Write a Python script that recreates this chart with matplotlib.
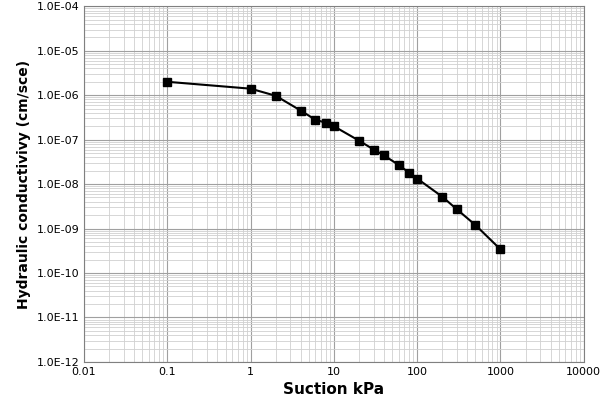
import matplotlib
matplotlib.use("Agg")
import matplotlib.pyplot as plt
from matplotlib.ticker import LogLocator, FixedLocator

suction = [0.1, 1, 2, 4, 6, 8, 10, 20, 30, 40, 60, 80, 100, 200, 300, 500, 1000]
conductivity = [2.0e-6, 1.4e-6, 0.97e-6, 4.5e-7, 2.8e-7, 2.4e-7, 2.0e-7, 9.5e-8, 6.0e-8, 4.4e-8,
                2.7e-8, 1.8e-8, 1.33e-8, 5.2e-9, 2.7e-9, 1.2e-9, 3.4e-10]
xticks = [0.01, 0.1, 1, 10, 100, 1000, 10000]
xlabels = ["0.01", "0.1", "1", "10", "100", "1000", "10000"]
yticks = [10.0**e for e in range(-12, -3)]
ylabels = ["1.0E-%02d" % -e for e in range(-12, -3)]

fig = plt.figure(figsize=(6, 4.17), dpi=100)
ax = fig.add_axes([0.14, 0.132, 0.833, 0.853])
ax.plot(suction, conductivity, color="black", lw=1.5, marker="s", ms=6, mfc="black")
ax.set_xscale("log"); ax.set_yscale("log")
ax.set_xlim(0.01, 10000); ax.set_ylim(1e-12, 1e-4)
ax.xaxis.set_major_locator(FixedLocator(xticks)); ax.set_xticklabels(xlabels, fontsize=8)
ax.yaxis.set_major_locator(FixedLocator(yticks)); ax.set_yticklabels(ylabels, fontsize=8)
ax.xaxis.set_minor_locator(LogLocator(subs=range(2, 10), numticks=20))
ax.yaxis.set_minor_locator(LogLocator(subs=range(2, 10), numticks=20))
ax.xaxis.set_minor_formatter(plt.NullFormatter()); ax.yaxis.set_minor_formatter(plt.NullFormatter())
ax.grid(True, which="major", color="#a0a0a0", lw=0.8)
ax.grid(True, which="minor", color="#d0d0d0", lw=0.6)
ax.tick_params(which="both", length=0)
for s in ax.spines.values():
    s.set_color("#808080")
ax.set_xlabel("Suction kPa", fontsize=11, fontweight="bold")
ax.set_ylabel("Hydraulic conductivivy (cm/sce)", fontsize=10, fontweight="bold")
fig.savefig("out.png", dpi=100)
